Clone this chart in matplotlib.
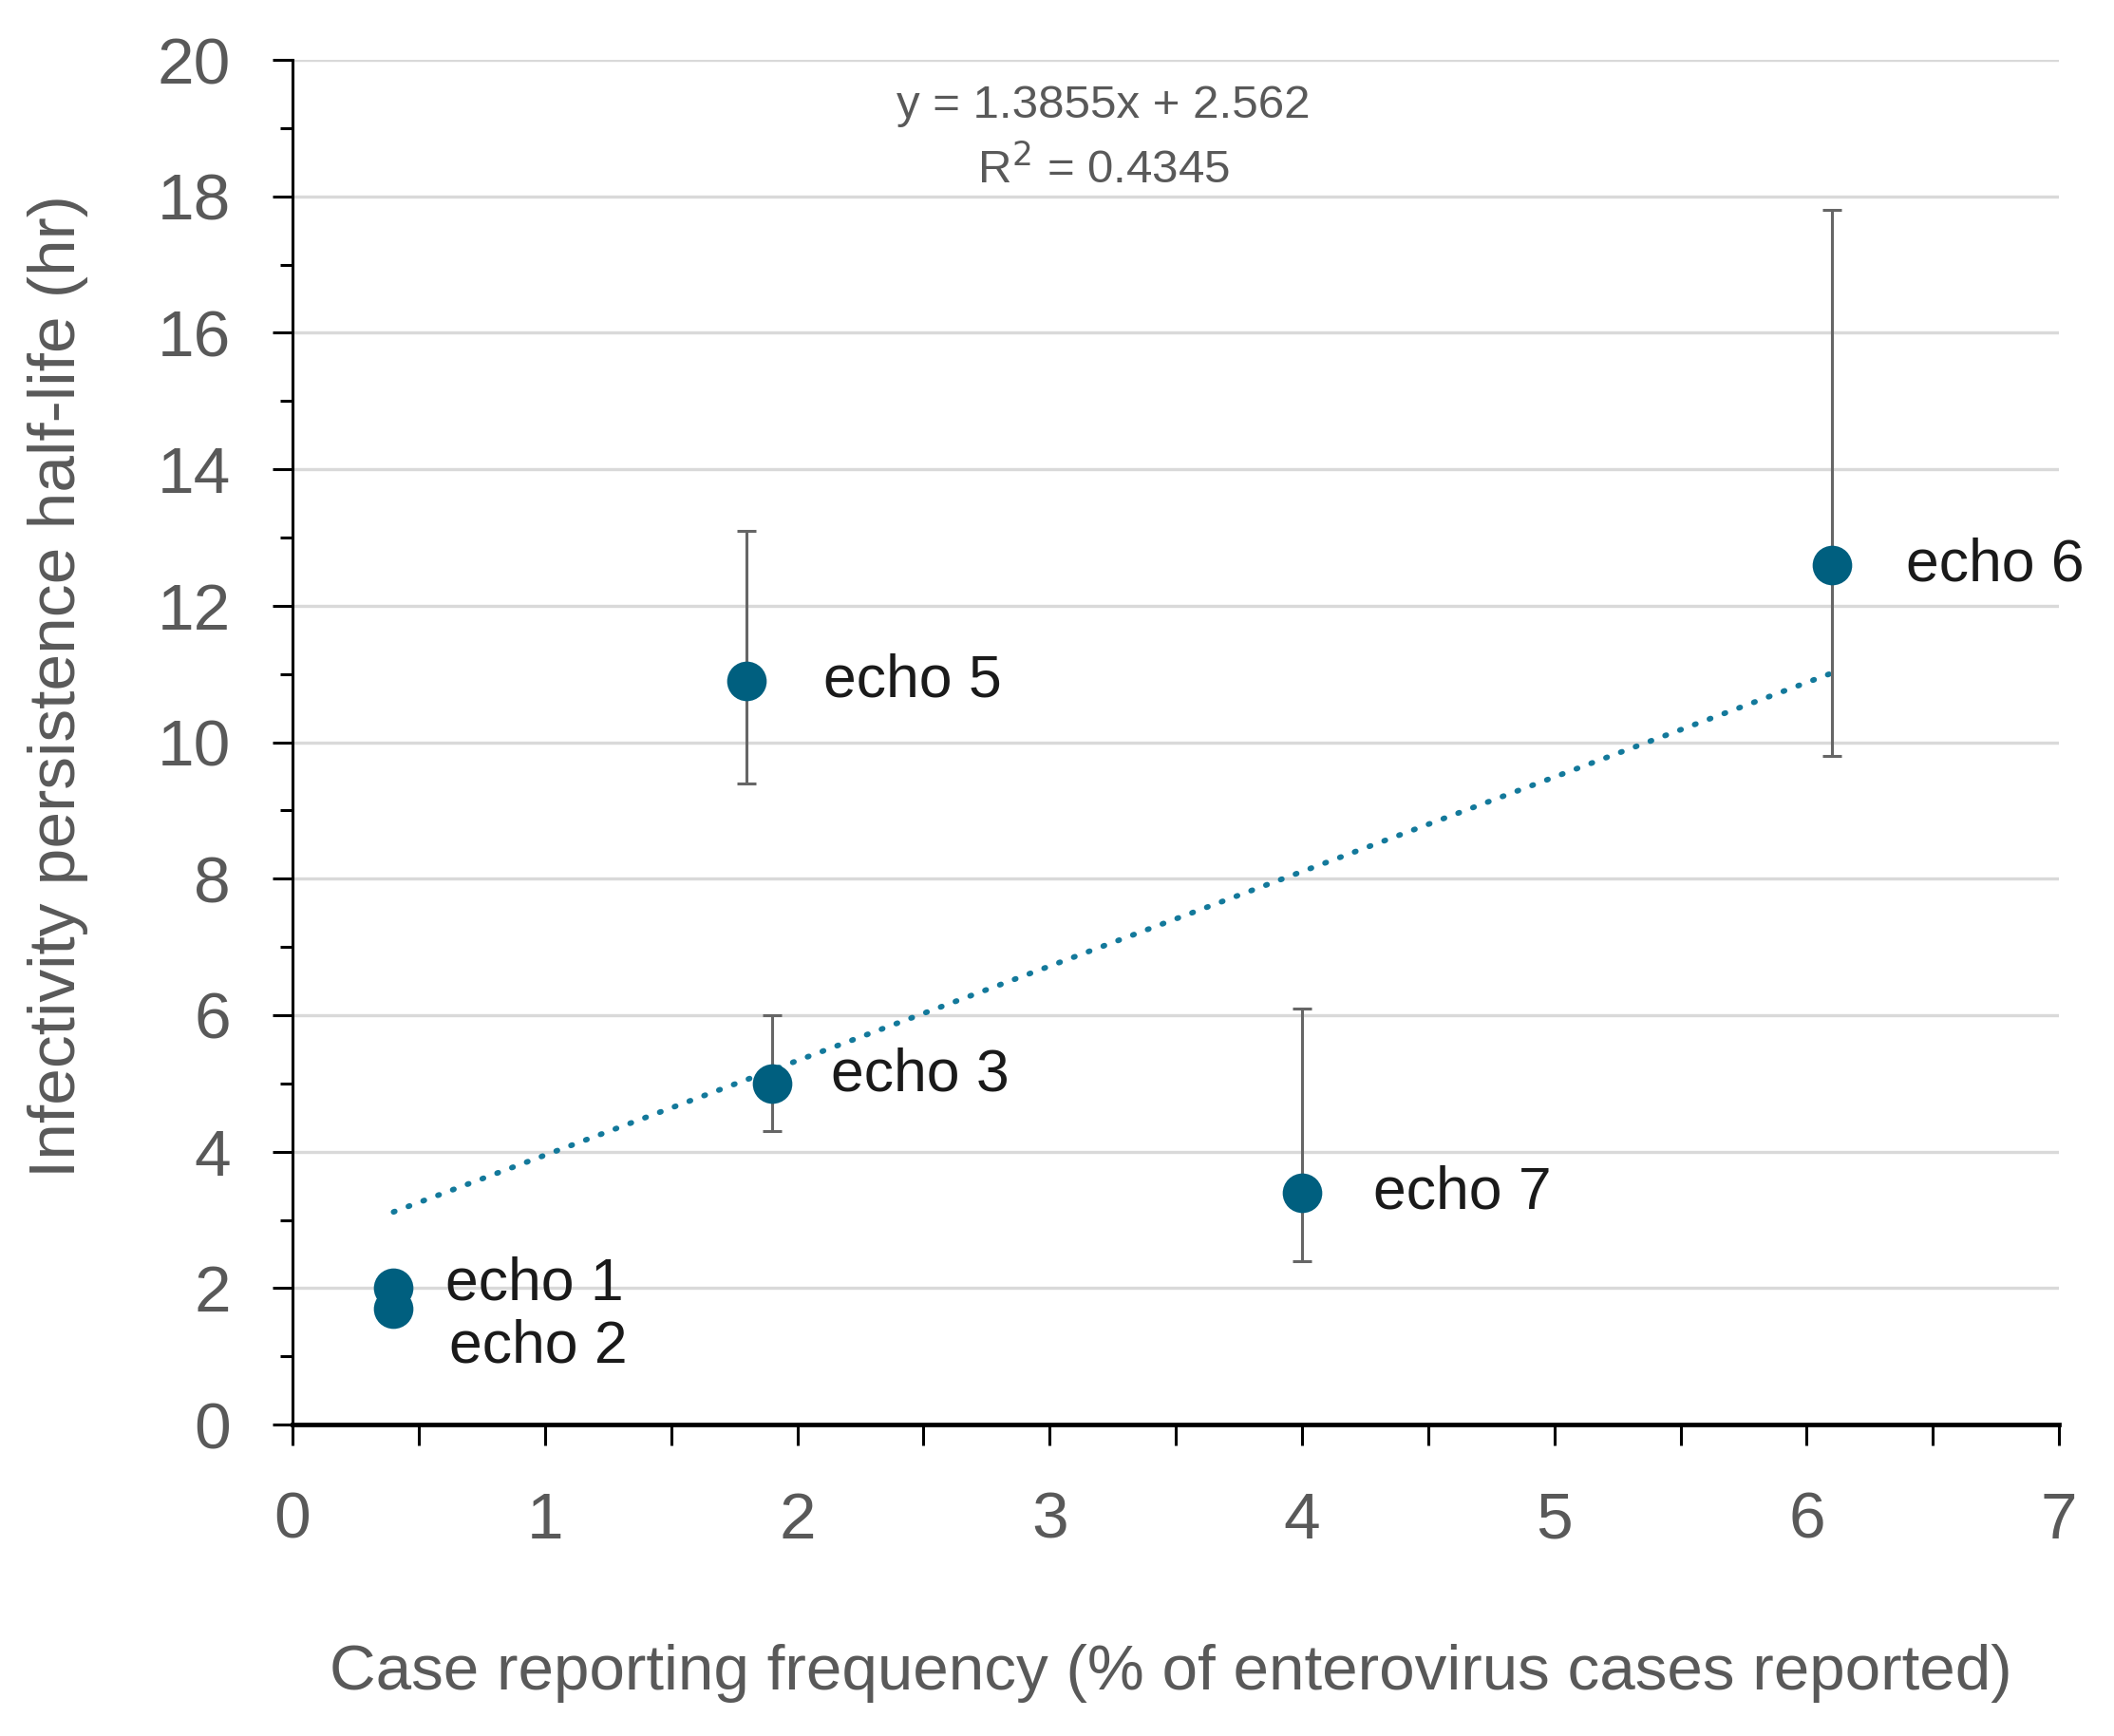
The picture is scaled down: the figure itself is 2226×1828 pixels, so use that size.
import numpy as np
import matplotlib
matplotlib.use("Agg")
import matplotlib.pyplot as plt
from matplotlib.ticker import MultipleLocator

plt.rcParams['font.family'] = ['Liberation Sans', 'DejaVu Sans']

# data
labels = ['echo 1', 'echo 2', 'echo 3', 'echo 5', 'echo 6', 'echo 7']
case_freq = [0.4, 0.4, 1.9, 1.8, 6.1, 4.0]
half_life = [2.0, 1.7, 5.0, 10.9, 12.6, 3.4]
err_low = [0.0, 0.0, 0.7, 1.5, 2.8, 1.0]
err_high = [0.0, 0.0, 1.0, 2.2, 5.2, 2.7]
has_err = [False, False, True, True, True, True]

# trendline reported on the chart
slope = 1.3855
intercept = 2.562
r_squared = 0.4345

# label offsets (points) from each marker
label_dx = [39, 42, 45, 58, 56, 54]
label_dy = [3, -29, 6, 0, 0, 0]

GRAY = '#595959'
TEAL = '#005f7f'

fig = plt.figure(figsize=(22.26, 18.28), dpi=100)
ax = fig.add_axes([0.1384, 0.1794, 0.8356, 0.7861])

# gridlines
ax.yaxis.grid(True, color='#d9d9d9', linewidth=2.4, zorder=0)
ax.set_axisbelow(True)

# trendline
xs = np.array([min(case_freq), max(case_freq)])
ax.plot(xs, slope * xs + intercept, color='#13799b', linewidth=4.2,
        linestyle=(0, (0.25, 2.6)), dash_capstyle='round', zorder=2)

# error bars
ex = [x for x, h in zip(case_freq, has_err) if h]
ey = [y for y, h in zip(half_life, has_err) if h]
elo = [e for e, h in zip(err_low, has_err) if h]
ehi = [e for e, h in zip(err_high, has_err) if h]
ax.errorbar(ex, ey, yerr=[elo, ehi], fmt='none', ecolor='#666666',
            elinewidth=2.2, capsize=7.5, capthick=2.2, zorder=3)

# points
ax.plot(case_freq, half_life, 'o', color=TEAL, markersize=30,
        markeredgewidth=0, zorder=4)

for lab, x, y, dx, dy in zip(labels, case_freq, half_life, label_dx, label_dy):
    ax.annotate(lab, (x, y), xytext=(dx, dy), textcoords='offset points',
                ha='left', va='center', fontsize=45, color='#1a1a1a', zorder=5)

# equation
ax.text(3.214, 19.33, f'y = {slope}x + {intercept}', ha='center', va='center',
        fontsize=35.5, color=GRAY)
ax.text(3.214, 18.39, f'R$^2$ = {r_squared}', ha='center', va='center',
        fontsize=35.5, color=GRAY)

ax.set_xlim(0, 7)
ax.set_ylim(0, 20)
ax.xaxis.set_major_locator(MultipleLocator(1))
ax.xaxis.set_minor_locator(MultipleLocator(0.5))
ax.yaxis.set_major_locator(MultipleLocator(2))
ax.yaxis.set_minor_locator(MultipleLocator(1))

for s in ['top', 'right']:
    ax.spines[s].set_visible(False)
ax.spines['left'].set_linewidth(2.2)
ax.spines['bottom'].set_linewidth(3.4)

ax.tick_params(axis='y', which='major', direction='out', length=15, width=2.2,
               labelsize=50, labelcolor=GRAY, pad=32)
ax.tick_params(axis='y', which='minor', direction='out', length=9.5, width=2.2)
ax.tick_params(axis='x', which='both', direction='out', length=16, width=2.2,
               labelsize=50, labelcolor=GRAY, pad=34)

ax.set_xlabel('Case reporting frequency (% of enterovirus cases reported)',
              fontsize=48.5, color=GRAY)
ax.set_ylabel('Infectivity persistence half-life (hr)', fontsize=50,
              color=GRAY)
ax.xaxis.set_label_coords(0.497, -0.182)
ax.xaxis.label.set_va('center')
ax.yaxis.set_label_coords(-0.133, 0.541)
ax.yaxis.label.set_va('center')

fig.savefig('out.png', dpi=100)
